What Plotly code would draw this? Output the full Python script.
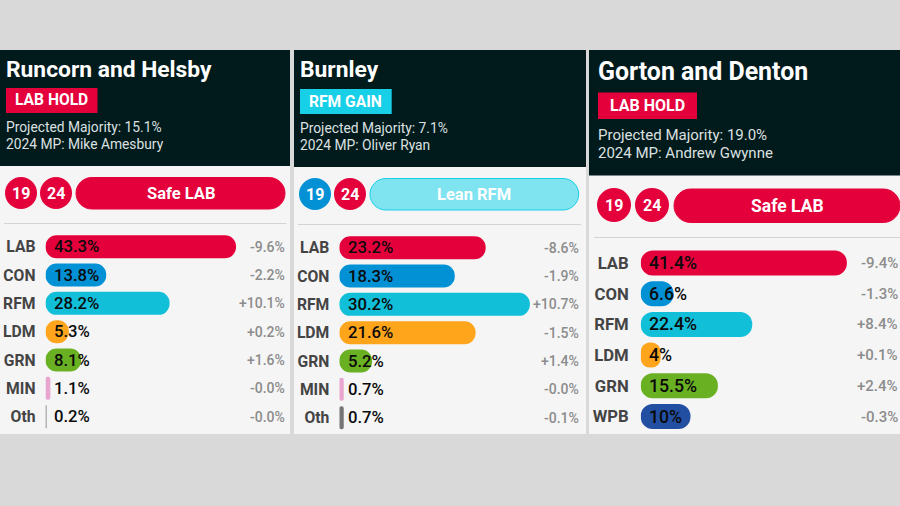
import plotly.graph_objects as go

W, H = 900, 506
FONT = "Roboto"

# ---- data ----
titles = ["Runcorn and Helsby", "Burnley", "Gorton and Denton"]
results = ["LAB HOLD", "RFM GAIN", "LAB HOLD"]
majorities = ["Projected Majority: 15.1%", "Projected Majority: 7.1%", "Projected Majority: 19.0%"]
mps = ["2024 MP: Mike Amesbury", "2024 MP: Oliver Ryan", "2024 MP: Andrew Gwynne"]
ratings = ["Safe LAB", "Lean RFM", "Safe LAB"]

parties_1 = ["LAB", "CON", "RFM", "LDM", "GRN", "MIN", "Oth"]
values_1 = [43.3, 13.8, 28.2, 5.3, 8.1, 1.1, 0.2]
labels_1 = ["43.3%", "13.8%", "28.2%", "5.3%", "8.1%", "1.1%", "0.2%"]
changes_1 = ["-9.6%", "-2.2%", "+10.1%", "+0.2%", "+1.6%", "-0.0%", "-0.0%"]

parties_2 = ["LAB", "CON", "RFM", "LDM", "GRN", "MIN", "Oth"]
values_2 = [23.2, 18.3, 30.2, 21.6, 5.2, 0.7, 0.7]
labels_2 = ["23.2%", "18.3%", "30.2%", "21.6%", "5.2%", "0.7%", "0.7%"]
changes_2 = ["-8.6%", "-1.9%", "+10.7%", "-1.5%", "+1.4%", "-0.0%", "-0.1%"]

parties_3 = ["LAB", "CON", "RFM", "LDM", "GRN", "WPB"]
values_3 = [41.4, 6.6, 22.4, 4.0, 15.5, 10.0]
labels_3 = ["41.4%", "6.6%", "22.4%", "4%", "15.5%", "10%"]
changes_3 = ["-9.4%", "-1.3%", "+8.4%", "+0.1%", "+2.4%", "-0.3%"]

party_colors = {"LAB": "#E4003B", "CON": "#0391D6", "RFM": "#12BFD9", "LDM": "#FFA51C",
                "GRN": "#6AB023", "MIN": "#E8A5D0", "Oth": "#757575", "WPB": "#234FA3"}
RED, BLUE, CYAN = "#E4003B", "#0391D6", "#17D0E8"

# ---- layout geometry (pixels) ----
panels = [
    dict(left=0, right=290, head_bot=166, tx=5, title_y=69, title_size=22.8,
         badge=(6, 97.5, 88, 113), badge_color=RED, badge_size=15.6, maj_y=127, mp_y=144, small=13.8,
         circ=[(21, 193, 16, RED), (56, 193, 16, RED)], pill=(76, 285, 177.5, 209),
         pill_fill=RED, pill_line=RED, pill_size=16.5, rule=(4, 286.5, 223.5),
         bar_x=45.5, px_per=4.4, first_y=246.7, pitch=28.33, bar_h=23, right_lab=286.5,
         val=16.7, cat=15.7, delta=14, val_off=6.5, stand=9),
    dict(left=294, right=586, head_bot=167, tx=299, title_y=69.5, title_size=22.8,
         badge=(300, 391.7, 89, 114), badge_color=CYAN, badge_size=15.6, maj_y=128, mp_y=145, small=13.8,
         circ=[(315, 194, 16, BLUE), (350, 194, 16, RED)], pill=(370, 578.7, 178.5, 210),
         pill_fill="#80E3F0", pill_line=CYAN, pill_size=16.5, rule=(298, 581, 224.5),
         bar_x=339.3, px_per=6.31, first_y=247.7, pitch=28.33, bar_h=23, right_lab=580.5,
         val=16.7, cat=15.7, delta=14, val_off=6.5, stand=9),
    dict(left=589, right=900, head_bot=175.5, tx=597, title_y=71.5, title_size=24.9,
         badge=(598, 697, 92.5, 119), badge_color=RED, badge_size=16, maj_y=135, mp_y=153, small=15,
         circ=[(614, 205, 17, RED), (652, 205, 17, RED)], pill=(674, 900, 189, 222.5),
         pill_fill=RED, pill_line=RED, pill_size=17.5, rule=(594, 900, 237.5),
         bar_x=640.7, px_per=4.98, first_y=263, pitch=30.7, bar_h=25, right_lab=900.2,
         val=17.7, cat=16.7, delta=15, val_off=6.5, stand=11),
]
series = [(parties_1, values_1, labels_1, changes_1),
          (parties_2, values_2, labels_2, changes_2),
          (parties_3, values_3, labels_3, changes_3)]


def fx(px):
    return px / W


def fy(px):
    return 1 - px / H


def pill_path(x0, x1, y0, y1):
    r = (y1 - y0) / 2
    k = r * 0.5523
    pts = [
        f"M{fx(x0 + r)},{fy(y0)}", f"L{fx(x1 - r)},{fy(y0)}",
        f"C{fx(x1 - r + k)},{fy(y0)} {fx(x1)},{fy(y0 + r - k)} {fx(x1)},{fy(y0 + r)}",
        f"C{fx(x1)},{fy(y0 + r + k)} {fx(x1 - r + k)},{fy(y1)} {fx(x1 - r)},{fy(y1)}",
        f"L{fx(x0 + r)},{fy(y1)}",
        f"C{fx(x0 + r - k)},{fy(y1)} {fx(x0)},{fy(y0 + r + k)} {fx(x0)},{fy(y0 + r)}",
        f"C{fx(x0)},{fy(y0 + r - k)} {fx(x0 + r - k)},{fy(y0)} {fx(x0 + r)},{fy(y0)}", "Z",
    ]
    return " ".join(pts)


def rect(x0, x1, y0, y1, color):
    return dict(type="rect", xref="paper", yref="paper", x0=fx(x0), x1=fx(x1), y0=fy(y0), y1=fy(y1),
                fillcolor=color, line=dict(width=0), layer="below")


def text(x, y, s, size, color, anchor="left", weight=400):
    return dict(xref="paper", yref="paper", x=fx(x), y=fy(y), text=s, showarrow=False,
                xanchor=anchor, yanchor="middle", borderpad=0,
                font=dict(family=FONT, size=size, color=color, weight=weight))


fig = go.Figure()
shapes, annotations = [], []
layout_axes = {}

for i, (p, (names, vals, labs, chgs)) in enumerate(zip(panels, series)):
    sfx = "" if i == 0 else str(i + 1)
    # panel card and header
    shapes.append(rect(p["left"], p["right"], 50, 434, "#F5F5F5"))
    shapes.append(rect(p["left"], p["right"], 50, p["head_bot"], "#011A1C"))
    b = p["badge"]
    shapes.append(rect(b[0], b[1], b[2], b[3], p["badge_color"]))
    annotations.append(text(p["tx"], p["title_y"], titles[i], p["title_size"], "#FFFFFF", weight=700))
    annotations.append(text((b[0] + b[1]) / 2, (b[2] + b[3]) / 2, results[i], p["badge_size"], "#FFFFFF", "center", 700))
    annotations.append(text(p["tx"], p["maj_y"], majorities[i], p["small"], "#DDE0E0"))
    annotations.append(text(p["tx"], p["mp_y"], mps[i], p["small"], "#DDE0E0"))
    # rating row
    for (cx, cy, r, col), yr in zip(p["circ"], ["19", "24"]):
        shapes.append(dict(type="circle", xref="paper", yref="paper", x0=fx(cx - r), x1=fx(cx + r),
                           y0=fy(cy - r), y1=fy(cy + r), fillcolor=col, line=dict(width=0), layer="below"))
        annotations.append(text(cx, cy, yr, 16, "#FFFFFF", "center", 700))
    q = p["pill"]
    shapes.append(dict(type="path", xref="paper", yref="paper", path=pill_path(*q), fillcolor=p["pill_fill"],
                       line=dict(color=p["pill_line"], width=1), layer="below"))
    annotations.append(text((q[0] + q[1]) / 2, (q[2] + q[3]) / 2, ratings[i], p["pill_size"], "#FFFFFF", "center", 700))
    ru = p["rule"]
    shapes.append(dict(type="line", xref="paper", yref="paper", x0=fx(ru[0]), x1=fx(ru[1]), y0=fy(ru[2]), y1=fy(ru[2]),
                       line=dict(color="#D4D4D4", width=1.2), layer="below"))

    # bars: an explicit base makes Plotly round both ends of each bar
    n = len(names)
    top = p["first_y"] - p["pitch"] / 2
    bottom = top + p["pitch"] * n
    width_px = p["right"] - p["bar_x"]
    for name, v in zip(names, vals):
        r = min(p["bar_h"] / 2, v * p["px_per"] / 2)
        fig.add_trace(go.Bar(x=[v], y=[name], base=[0], orientation="h", width=p["bar_h"] / p["pitch"],
                             marker=dict(color=party_colors[name], cornerradius=r, line=dict(width=0)),
                             xaxis="x" + sfx, yaxis="y" + sfx, showlegend=False, hoverinfo="skip"))
    layout_axes["xaxis" + sfx] = dict(domain=[fx(p["bar_x"]), fx(p["right"])], range=[0, width_px / p["px_per"]],
                                      visible=False, anchor="y" + sfx)
    layout_axes["yaxis" + sfx] = dict(domain=[fy(bottom), fy(top)], categoryorder="array", categoryarray=names,
                                      autorange="reversed", anchor="x" + sfx, showgrid=False, zeroline=False,
                                      showline=False, ticks="", ticklabelstandoff=p["stand"],
                                      tickfont=dict(family=FONT, size=p["cat"], color="#444444", weight=700))
    for name, lab, chg in zip(names, labs, chgs):
        annotations.append(dict(xref="x" + sfx, yref="y" + sfx, x=0, y=name, text=lab, showarrow=False,
                                xanchor="left", yanchor="middle", xshift=p["val_off"],
                                font=dict(family=FONT, size=p["val"], color="#0A0A0A", weight=500)))
        annotations.append(dict(xref="paper", yref="y" + sfx, x=fx(p["right_lab"]), y=name, text=chg, showarrow=False,
                                xanchor="right", yanchor="middle",
                                font=dict(family=FONT, size=p["delta"], color="#8C8C8C", weight=500)))

fig.update_layout(width=W, height=H, margin=dict(l=0, r=0, t=0, b=0), autosize=False,
                  paper_bgcolor="#D9D9D9", plot_bgcolor="rgba(0,0,0,0)", barmode="overlay",
                  showlegend=False, shapes=shapes, annotations=annotations, **layout_axes)

fig.write_html("out.html", config=dict(displayModeBar=False),
               post_script="document.body.style.margin='0';document.body.style.overflow='hidden';")
